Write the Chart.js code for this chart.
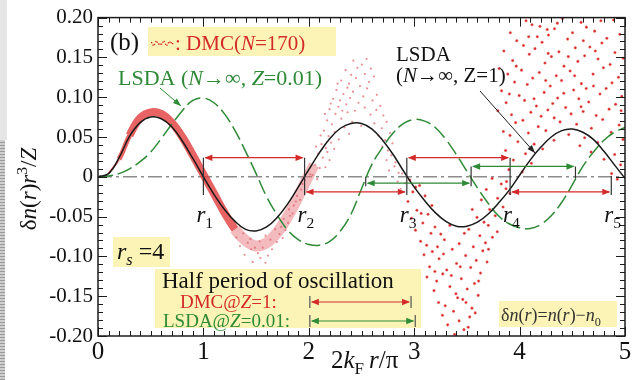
<!DOCTYPE html>
<html>
<head>
<meta charset="utf-8">
<script src="https://cdn.jsdelivr.net/npm/chart.js@4.4.1/dist/chart.umd.min.js"></script>
<style>
  html, body { margin: 0; padding: 0; background: #fff; }
  #wrap { position: relative; width: 636px; height: 380px; overflow: hidden; }
  #edgeTop { position: absolute; left: 0; top: 0; width: 7px; height: 140px; background: #e6e6e6; }
  #edgeBot { position: absolute; left: 0; top: 140px; width: 5px; height: 240px;
             background: repeating-linear-gradient(#cfcfcf 0 2px, #9a9a9a 2px 3px); }
  canvas { position: absolute; left: 0; top: 0; }
</style>
</head>
<body>
<div id="wrap">
  <div id="edgeTop"></div><div id="edgeBot"></div>
  <canvas id="chart" width="636" height="380"></canvas>
</div>
<script>
// ---- data ----
const xGrid = [0,0.1,0.2,0.3,0.4,0.5,0.6,0.7,0.8,0.9,1.0,1.1,1.2,1.3,1.4,1.5,1.6,1.7,1.8,1.9,2.0,
  2.1,2.2,2.3,2.4,2.5,2.6,2.7,2.8,2.9,3.0,3.1,3.2,3.3,3.4,3.5,3.6,3.7,3.8,3.9,4.0,
  4.1,4.2,4.3,4.4,4.5,4.6,4.7,4.8,4.9,5.0];

// LSDA (N -> inf, Z = 1), solid black
const lsdaZ1 = [0,0.004,0.024,0.051,0.068,0.075,0.073,0.063,0.045,0.023,0.0,
  -0.022,-0.041,-0.056,-0.066,-0.068,-0.063,-0.051,-0.034,-0.013,0.009,
  0.030,0.048,0.061,0.067,0.067,0.060,0.046,0.028,0.007,-0.013,
  -0.030,-0.045,-0.056,-0.062,-0.062,-0.057,-0.047,-0.033,-0.017,0.002,
  0.021,0.037,0.050,0.058,0.060,0.056,0.047,0.032,0.015,-0.002];

// LSDA (N -> inf, Z = 0.01), green dashed
const lsdaZ001 = [0,0.001,0.004,0.010,0.019,0.031,0.048,0.066,0.083,0.096,0.099,
  0.093,0.079,0.058,0.032,0.004,-0.025,-0.048,-0.067,-0.079,-0.085,
  -0.086,-0.081,-0.068,-0.047,-0.015,0.016,0.037,0.055,0.067,0.072,
  0.070,0.062,0.047,0.028,0.007,-0.014,-0.033,-0.049,-0.059,-0.064,
  -0.065,-0.060,-0.049,-0.032,-0.010,0.013,0.031,0.046,0.056,0.062];

// DMC (N = 170): dense band of samples near the centre
const dmcBandX = [0.1,0.2,0.3,0.4,0.5,0.6,0.7,0.8,0.9,1.0,1.1,1.2,1.3,1.4,1.5,1.6,1.7,1.8,1.9,2.0,2.05];
const dmcBandY = [0.004,0.022,0.052,0.074,0.081,0.079,0.068,0.050,0.027,0.003,
  -0.021,-0.045,-0.066,-0.080,-0.087,-0.083,-0.070,-0.050,-0.025,0.002,0.015];

// DMC scattered samples around the first minimum and the second hump (small light dots)
const dmcCloudLight = [
  [1.468,-0.107],[1.541,-0.102],[1.589,-0.108],
  [1.391,-0.098],[1.452,-0.091],[1.517,-0.096],[1.612,-0.099],[1.563,-0.089],
  [1.347,-0.087],[1.421,-0.083],[1.489,-0.089],[1.533,-0.081],[1.651,-0.091],[1.697,-0.082],
  [1.312,-0.076],[1.377,-0.071],[1.446,-0.078],[1.589,-0.074],[1.636,-0.079],[1.722,-0.072],[1.752,-0.077],
  [1.297,-0.062],[1.681,-0.066],[1.738,-0.063],[1.779,-0.067],
  [1.762,-0.053],[1.803,-0.058],[1.821,-0.049],[1.812,-0.041],[1.846,-0.046],[1.858,-0.036],
  [1.877,-0.031],[1.889,-0.024],[1.917,-0.029],[1.928,-0.016],[1.941,-0.009],
  [1.963,-0.004],[1.986,0.006],[2.014,0.003],
  [2.423,0.146],[2.504,0.141],[2.548,0.148],
  [2.349,0.134],[2.461,0.137],[2.532,0.129],[2.589,0.136],[2.402,0.128],
  [2.307,0.121],[2.381,0.117],[2.447,0.124],[2.571,0.119],[2.618,0.126],[2.486,0.114],
  [2.262,0.109],[2.328,0.104],[2.419,0.107],[2.517,0.101],[2.553,0.111],[2.646,0.103],[2.296,0.096],
  [2.231,0.098],[2.356,0.091],[2.392,0.099],[2.471,0.093],[2.604,0.096],[2.679,0.089],[2.532,0.087],
  [2.197,0.085],[2.253,0.079],[2.281,0.088],[2.368,0.081],[2.437,0.083],[2.586,0.078],[2.641,0.084],[2.707,0.077],
  [2.174,0.071],[2.219,0.066],[2.309,0.073],[2.339,0.062],[2.412,0.069],[2.497,0.064],[2.622,0.067],[2.693,0.061],[2.738,0.069],
  [2.143,0.058],[2.187,0.051],[2.246,0.056],[2.284,0.047],[2.382,0.054],[2.661,0.052],[2.724,0.046],[2.771,0.055],
  [2.121,0.041],[2.162,0.036],[2.211,0.043],[2.697,0.038],[2.749,0.033],[2.794,0.042],
  [2.089,0.029],[2.133,0.024],[2.176,0.031],[2.738,0.021],[2.782,0.027],[2.821,0.018],
  [2.061,0.015],[2.104,0.011],[2.761,0.008],[2.813,0.013],[2.852,0.005],
  [2.036,0.002],[2.079,-0.003],[2.843,-0.006],[2.886,0.004],[2.872,-0.015],[2.917,-0.008],
  [2.112,0.052],[2.153,0.079],[2.208,0.092],[2.273,0.117],[2.241,0.035],[2.068,0.038],
  [2.197,0.021],[2.318,0.083],[2.366,0.112],[2.158,0.012]
];

// DMC scattered samples beyond r3 (red dots)
const dmcCloudDark = [
  [2.958,-0.004],[3.051,-0.011],[3.739,-0.002],[3.826,-0.009],[3.871,-0.015],
  [2.987,-0.019],[3.103,-0.024],[3.684,-0.016],[3.792,-0.027],[3.908,-0.021],
  [2.941,-0.031],[3.026,-0.042],[3.168,-0.036],[3.637,-0.029],[3.716,-0.041],[3.843,-0.038],
  [2.974,-0.052],[3.082,-0.058],[3.131,-0.047],[3.596,-0.051],[3.662,-0.057],[3.769,-0.049],
  [3.012,-0.067],[3.197,-0.063],[3.252,-0.072],[3.518,-0.066],[3.623,-0.074],[3.703,-0.061],[3.788,-0.069],
  [3.061,-0.081],[3.118,-0.086],[3.286,-0.079],[3.427,-0.084],[3.561,-0.088],[3.676,-0.083],[3.742,-0.076],
  [3.093,-0.098],[3.172,-0.094],[3.236,-0.103],[3.361,-0.091],[3.488,-0.099],[3.589,-0.105],[3.651,-0.093],
  [3.146,-0.113],[3.309,-0.117],[3.402,-0.109],[3.536,-0.114],[3.691,-0.107],
  [3.121,-0.126],[3.213,-0.131],[3.271,-0.122],[3.447,-0.128],[3.572,-0.134],[3.629,-0.121],
  [3.188,-0.143],[3.339,-0.138],[3.396,-0.147],[3.503,-0.141],[3.607,-0.149],
  [3.231,-0.158],[3.294,-0.162],[3.461,-0.154],[3.548,-0.165],
  [3.268,-0.174],[3.373,-0.169],[3.426,-0.181],[3.527,-0.176],[3.579,-0.171],
  [3.318,-0.186],[3.472,-0.192],[3.383,-0.198],[3.512,-0.189],
  [3.066,-0.046],[3.221,-0.088],[3.352,-0.124],[3.476,-0.071],[3.551,-0.041],[3.338,-0.061],
  [3.412,-0.152],[3.196,-0.119],[3.611,-0.131],[3.278,-0.097],[3.437,-0.113],[3.159,-0.071],
  [3.705,-0.091],[3.491,-0.158],[3.014,-0.013],
  [4.061,0.196],[4.118,0.191],[4.407,0.199],[4.583,0.194],[4.634,0.188],[4.892,0.197],[4.262,0.185],
  [3.912,0.181],[4.274,0.178],[4.331,0.186],[4.712,0.183],[4.951,0.179],[4.168,0.176],[4.502,0.181],
  [3.973,0.171],[4.037,0.165],[4.213,0.169],[4.456,0.173],[4.528,0.162],[4.781,0.168],[4.828,0.174],
  [3.851,0.158],[4.092,0.154],[4.146,0.161],[4.373,0.157],[4.617,0.152],[4.667,0.163],[4.905,0.156],[4.983,0.149],
  [3.934,0.146],[4.241,0.143],[4.302,0.151],[4.421,0.139],[4.553,0.145],[4.744,0.148],[4.859,0.141],
  [3.806,0.136],[3.888,0.129],[4.018,0.134],[4.187,0.131],[4.348,0.127],[4.479,0.133],[4.697,0.129],[4.795,0.137],[4.938,0.125],
  [3.952,0.119],[4.073,0.116],[4.124,0.124],[4.291,0.114],[4.398,0.121],[4.586,0.117],[4.632,0.111],[4.877,0.118],
  [3.829,0.108],[3.996,0.102],[4.233,0.106],[4.361,0.099],[4.513,0.109],[4.562,0.098],[4.763,0.104],[4.821,0.111],[4.969,0.101],
  [3.872,0.093],[4.047,0.096],[4.159,0.089],[4.314,0.092],[4.437,0.087],[4.656,0.094],[4.911,0.091],
  [3.794,0.083],[3.923,0.078],[4.107,0.081],[4.204,0.076],[4.268,0.084],[4.489,0.079],[4.603,0.082],[4.727,0.077],[4.849,0.085],
  [3.962,0.068],[4.031,0.071],[4.177,0.063],[4.384,0.069],[4.541,0.066],[4.681,0.061],[4.788,0.072],[4.944,0.065],
  [3.846,0.057],[3.909,0.052],[4.083,0.055],[4.249,0.058],[4.466,0.053],[4.617,0.049],[4.868,0.056],
  [3.984,0.044],[4.138,0.041],[4.326,0.046],[4.572,0.039],[4.741,0.043],[4.981,0.047],
  [3.867,0.033],[4.056,0.029],[4.219,0.035],[4.678,0.031],[4.902,0.028],
  [3.941,0.021],[4.112,0.017],[4.801,0.022],[4.958,0.015],
  [3.898,0.009],[4.024,0.006],[4.873,0.004],[3.876,-0.006],[4.927,-0.003],
  [4.193,0.189],[4.358,0.193],[4.771,0.196],[4.086,0.176],[4.605,0.171],[4.271,0.155],
  [4.462,0.151],[4.718,0.158],[3.968,0.139],[4.522,0.127],[4.248,0.121],[4.701,0.114],
  [4.419,0.105],[4.137,0.098],[4.583,0.088],[4.963,0.083],[3.903,0.104],[4.328,0.074]
];

// half-period nodes (zeros r1..r5 of DMC, zeros of LSDA Z=0.01)
const dmcNodes = [1.00, 1.96, 2.93, 3.91, 4.87];
const lsdaNodes = [2.54, 3.54, 4.53];
const dmcArrowY = [0.024, -0.019];
const lsdaArrowY = [-0.008, 0.013];

const xTicks = [0, 1, 2, 3, 4, 5];
const xTickLabels = ['0', '1', '2', '3', '4', '5'];
const yTicks = [-0.2, -0.15, -0.1, -0.05, 0, 0.05, 0.1, 0.15, 0.2];
const yTickLabels = ['-0.20', '-0.15', '-0.10', '-0.05', '0', '0.05', '0.10', '0.15', '0.20'];

// ---- drawing helpers ----
const SERIF = "'Liberation Serif', 'Times New Roman', serif";
const RED = '#d42a2a';
const GREEN = '#2e8a36';
const YELLOW = '#fbf4b6';

function runs(ctx, x, y, parts, size, color) {
  // parts: [text, flags]; flags: i = italic, b = subscript, p = superscript
  for (const [t, f = ''] of parts) {
    const small = f.includes('b') || f.includes('p');
    const sz = small ? size * 0.68 : size;
    const dy = f.includes('b') ? size * 0.25 : f.includes('p') ? -size * 0.38 : 0;
    ctx.font = (f.includes('i') ? 'italic ' : '') + sz + 'px ' + SERIF;
    ctx.fillStyle = color;
    ctx.fillText(t, x, y + dy);
    x += ctx.measureText(t).width;
  }
  return x;
}

function runsWidth(ctx, parts, size) {
  let w = 0;
  for (const [t, f = ''] of parts) {
    const small = f.includes('b') || f.includes('p');
    ctx.font = (f.includes('i') ? 'italic ' : '') + (small ? size * 0.68 : size) + 'px ' + SERIF;
    w += ctx.measureText(t).width;
  }
  return w;
}

function head(ctx, x, y, dir, color) {
  ctx.fillStyle = color;
  ctx.beginPath();
  ctx.moveTo(x, y);
  ctx.lineTo(x - dir * 8, y - 3.2);
  ctx.lineTo(x - dir * 8, y + 3.2);
  ctx.closePath();
  ctx.fill();
}

function span(ctx, x0, x1, y, color) {
  ctx.strokeStyle = color;
  ctx.lineWidth = 1.2;
  ctx.beginPath();
  ctx.moveTo(x0 + 2, y);
  ctx.lineTo(x1 - 2, y);
  ctx.stroke();
  head(ctx, x0 + 1, y, -1, color);
  head(ctx, x1 - 1, y, 1, color);
}

function vbar(ctx, x, y0, y1, color) {
  ctx.strokeStyle = color;
  ctx.lineWidth = 1.2;
  ctx.beginPath();
  ctx.moveTo(x, y0);
  ctx.lineTo(x, y1);
  ctx.stroke();
}

function pointer(ctx, x0, y0, x1, y1, color) {
  ctx.strokeStyle = color;
  ctx.lineWidth = 1;
  ctx.beginPath();
  ctx.moveTo(x0, y0);
  ctx.lineTo(x1, y1);
  ctx.stroke();
  const a = Math.atan2(y1 - y0, x1 - x0);
  ctx.fillStyle = color;
  ctx.beginPath();
  ctx.moveTo(x1, y1);
  ctx.lineTo(x1 - 8 * Math.cos(a) + 3 * Math.sin(a), y1 - 8 * Math.sin(a) - 3 * Math.cos(a));
  ctx.lineTo(x1 - 8 * Math.cos(a) - 3 * Math.sin(a), y1 - 8 * Math.sin(a) + 3 * Math.cos(a));
  ctx.closePath();
  ctx.fill();
}

// half-period arrows between nodes
const arrowsPlugin = {
  id: 'arrows',
  afterDatasetsDraw(chart) {
    const { ctx, scales: { x, y } } = chart;
    ctx.save();
    for (let i = 0; i < dmcNodes.length - 1; i++) {
      const yy = y.getPixelForValue(dmcArrowY[i % 2]);
      span(ctx, x.getPixelForValue(dmcNodes[i]), x.getPixelForValue(dmcNodes[i + 1]), yy, RED);
    }
    dmcNodes.forEach((n, i) => {
      const top = i < dmcNodes.length - 1 ? dmcArrowY[0] : 0.001;
      vbar(ctx, x.getPixelForValue(n), y.getPixelForValue(top), y.getPixelForValue(-0.023), '#333');
    });
    for (let i = 0; i < lsdaNodes.length - 1; i++) {
      const yy = y.getPixelForValue(lsdaArrowY[i % 2]);
      span(ctx, x.getPixelForValue(lsdaNodes[i]), x.getPixelForValue(lsdaNodes[i + 1]), yy, GREEN);
    }
    const gTop = [0.0, lsdaArrowY[1], lsdaArrowY[1]];
    const gBot = [lsdaArrowY[0] - 0.004, lsdaArrowY[0] - 0.004, -0.002];
    lsdaNodes.forEach((n, i) => {
      vbar(ctx, x.getPixelForValue(n), y.getPixelForValue(gTop[i]), y.getPixelForValue(gBot[i]), '#333');
    });
    ctx.restore();
  }
};

// frame, inward ticks and all annotation text
const framePlugin = {
  id: 'frame',
  afterDraw(chart) {
    const { ctx, chartArea: a, scales: { x, y } } = chart;
    ctx.save();
    ctx.strokeStyle = '#1c1c1c';
    ctx.lineWidth = 1.5;
    ctx.strokeRect(a.left, a.top, a.right - a.left, a.bottom - a.top);
    ctx.lineWidth = 1;
    ctx.beginPath();
    for (let i = 0; i <= 50; i++) {
      const px = Math.round(x.getPixelForValue(i / 10)) + 0.5;
      const len = i % 10 === 0 ? 9 : 5;
      ctx.moveTo(px, a.bottom); ctx.lineTo(px, a.bottom - len);
      ctx.moveTo(px, a.top); ctx.lineTo(px, a.top + len);
    }
    for (let i = -20; i <= 20; i++) {
      const py = Math.round(y.getPixelForValue(i / 100)) + 0.5;
      const len = i % 5 === 0 ? 9 : 5;
      ctx.moveTo(a.left, py); ctx.lineTo(a.left + len, py);
      ctx.moveTo(a.right, py); ctx.lineTo(a.right - len, py);
    }
    ctx.stroke();

    ctx.textBaseline = 'alphabetic';
    ctx.textAlign = 'left';

    // panel label and DMC legend
    runs(ctx, 110, 50, [['(b)']], 25, '#111');
    ctx.fillStyle = YELLOW;
    ctx.fillRect(148, 27, 188, 29);
    ctx.fillStyle = RED;
    for (let i = 0; i < 16; i++) {
      ctx.fillRect(151 + i * 1.4, 43 + 1.6 * Math.sin(i * 1.3) - (i % 3 === 0 ? 1 : 0), 1.3, 1.3);
    }
    runs(ctx, 175, 50, [[': DMC('], ['N', 'i'], ['=170)']], 21, RED);

    // LSDA Z = 0.01 label
    runs(ctx, 118, 85, [['LSDA ('], ['N', 'i'], ['\u2192\u221E, '], ['Z', 'i'], ['=0.01)']], 22, GREEN);
    pointer(ctx, 160, 88, 181, 106, GREEN);

    // LSDA Z = 1 label
    runs(ctx, 396, 61, [['LSDA']], 21, '#111');
    runs(ctx, 396, 82, [['('], ['N', 'i'], ['\u2192\u221E, Z=1)']], 21, '#111');
    pointer(ctx, 480, 91, 535, 153, '#222');

    // node labels r1..r5
    dmcNodes.forEach((n, i) => {
      const px = x.getPixelForValue(n);
      runs(ctx, px - 7, 222, [['r', 'i'], [String(i + 1), 'b']], 23, '#111');
    });

    // r_s box
    ctx.fillStyle = YELLOW;
    ctx.fillRect(113, 237, 57, 30);
    runs(ctx, 117, 259, [['r', 'i'], ['s', 'ib'], [' =4']], 24, '#111');

    // half-period legend box
    ctx.fillStyle = YELLOW;
    ctx.fillRect(155, 269, 266, 59);
    runs(ctx, 162, 288, [['Half period of oscillation']], 23, '#111');
    runs(ctx, 180, 308, [['DMC@'], ['Z', 'i'], ['=1:']], 19, RED);
    runs(ctx, 163, 327, [['LSDA@'], ['Z', 'i'], ['=0.01:']], 19, GREEN);
    const lx0 = x.getPixelForValue(2.01);
    const rx1 = x.getPixelForValue(2.01 + (dmcNodes[1] - dmcNodes[0]));
    const gx1 = x.getPixelForValue(2.01 + (lsdaNodes[1] - lsdaNodes[0]));
    span(ctx, lx0, rx1, 302, RED);
    vbar(ctx, lx0, 296, 308, '#555'); vbar(ctx, rx1, 296, 308, '#555');
    span(ctx, lx0, gx1, 321, GREEN);
    vbar(ctx, lx0, 315, 327, '#555'); vbar(ctx, gx1, 315, 327, '#555');

    // definition box
    ctx.fillStyle = YELLOW;
    ctx.fillRect(499, 301, 118, 26);
    runs(ctx, 501, 321, [['\u03B4'], ['n', 'i'], ['('], ['r', 'i'], [')='], ['n', 'i'], ['('], ['r', 'i'], [')\u2212'], ['n', 'i'], ['0', 'b']], 18, '#333');

    // axis titles
    runs(ctx, 331, 368, [['2'], ['k', 'i'], ['F', 'b'], ['\u2009'], ['r', 'i'], ['/\u03C0']], 25, '#111');
    const yParts = [['\u03B4'], ['n', 'i'], ['('], ['r', 'i'], [')'], ['r', 'i'], ['3', 'p'], ['/'], ['Z', 'i']];
    const w = runsWidth(ctx, yParts, 23);
    ctx.translate(36, 189);
    ctx.rotate(-Math.PI / 2);
    runs(ctx, -w / 2, 0, yParts, 23, '#111');
    ctx.restore();
  }
};

const pts = (xs, ys) => xs.map((v, i) => ({ x: v, y: ys[i] }));
const pairs = arr => arr.map(([a, b]) => ({ x: a, y: b }));

new Chart(document.getElementById('chart'), {
  type: 'line',
  data: {
    datasets: [
      {
        label: 'LSDA (N\u2192\u221E, Z=1)',
        data: pts(xGrid, lsdaZ1),
        borderColor: '#1a1a1a', borderWidth: 1.5, pointRadius: 0, tension: 0.4, order: 0
      },
      {
        label: 'LSDA (N\u2192\u221E, Z=0.01)',
        data: pts(xGrid, lsdaZ001),
        borderColor: GREEN, borderWidth: 1.5, borderDash: [15, 5], pointRadius: 0, tension: 0.4, order: 1
      },
      {
        label: 'DMC (N=170) scattered',
        data: pairs(dmcCloudDark),
        showLine: false, pointRadius: 1.3, pointBorderWidth: 0.8,
        pointBackgroundColor: '#d82424', pointBorderColor: 'rgba(240,130,130,0.55)', order: 2
      },
      {
        label: 'DMC (N=170) light',
        data: pairs(dmcCloudLight),
        showLine: false, pointRadius: 1.1, pointBorderWidth: 0,
        pointBackgroundColor: 'rgba(222,95,105,0.7)', order: 3
      },
      {
        label: 'DMC (N=170)',
        data: pts(dmcBandX, dmcBandY),
        pointRadius: 0, tension: 0.4, borderCapStyle: 'butt',
        borderColor: 'rgba(226,60,60,0.8)', borderWidth: 7,
        segment: {
          borderWidth: c => (c.p0.parsed.x < 0.15 ? 2 : c.p0.parsed.x < 0.25 ? 5 : c.p0.parsed.x < 1.25 ? 8 : 11),
          borderColor: c => (c.p0.parsed.x < 1.25 ? 'rgba(226,60,60,0.8)' : 'rgba(232,120,125,0.5)')
        },
        order: 4
      },
      {
        label: 'zero',
        data: [{ x: 0, y: 0 }, { x: 5, y: 0 }],
        borderColor: '#8c8c8c', borderWidth: 1.5, borderDash: [14, 4, 3, 4], pointRadius: 0, order: 5
      }
    ]
  },
  options: {
    responsive: false,
    animation: false,
    devicePixelRatio: 1,
    layout: { padding: { top: 16, right: 11, left: 0, bottom: 0 } },
    plugins: { legend: { display: false }, tooltip: { enabled: false } },
    scales: {
      x: {
        type: 'linear', min: 0, max: 5,
        grid: { display: false, drawTicks: false },
        border: { display: false },
        afterBuildTicks: s => { s.ticks = xTicks.map(v => ({ value: v })); },
        afterFit: s => { s.height = 44; },
        ticks: {
          padding: 1, color: '#111', maxRotation: 0,
          font: { family: SERIF, size: 25 },
          callback: (v, i) => xTickLabels[i]
        }
      },
      y: {
        min: -0.2, max: 0.2,
        grid: { display: false, drawTicks: false },
        border: { display: false },
        afterBuildTicks: s => { s.ticks = yTicks.map(v => ({ value: v })); },
        afterFit: s => { s.width = 98; },
        ticks: {
          padding: 5, color: '#111',
          font: { family: SERIF, size: 21 },
          callback: (v, i) => yTickLabels[i]
        }
      }
    }
  },
  plugins: [arrowsPlugin, framePlugin]
});
</script>
</body>
</html>
